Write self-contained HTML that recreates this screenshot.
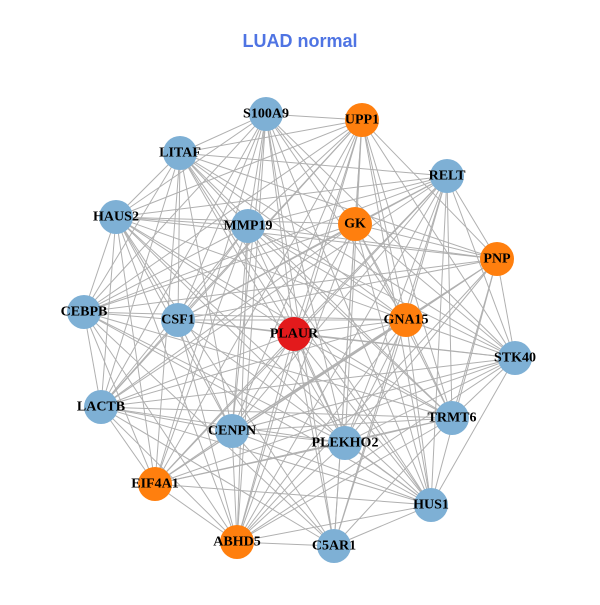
<!DOCTYPE html>
<html><head><meta charset="utf-8"><style>
html,body{margin:0;padding:0;background:#fff;}
svg text{font-family:"Liberation Serif",serif;font-weight:bold;font-size:14px;text-anchor:middle;dominant-baseline:central;fill:#000;}
</style></head><body>
<svg id="g" width="600" height="600" xmlns="http://www.w3.org/2000/svg">
<rect width="600" height="600" fill="#fff"/>
<text x="300" y="41" style="font-family:'Liberation Sans',sans-serif;font-size:18px;fill:#4f74e3;">LUAD normal</text>
<g id="edges" stroke="#b0b0b0" stroke-width="1"></g>
<g id="nodes"></g>
<g id="labels">
<text x="266" y="114">S100A9</text>
<text x="362" y="120">UPP1</text>
<text x="180" y="153">LITAF</text>
<text x="447" y="176">RELT</text>
<text x="116" y="217">HAUS2</text>
<text x="248" y="226">MMP19</text>
<text x="355" y="224">GK</text>
<text x="497" y="259">PNP</text>
<text x="84" y="312">CEBPB</text>
<text x="178" y="320">CSF1</text>
<text x="294" y="334">PLAUR</text>
<text x="406" y="320">GNA15</text>
<text x="515" y="358">STK40</text>
<text x="101" y="407">LACTB</text>
<text x="452" y="418">TRMT6</text>
<text x="232" y="431">CENPN</text>
<text x="345" y="443">PLEKHO2</text>
<text x="155" y="484">EIF4A1</text>
<text x="431" y="505">HUS1</text>
<text x="237" y="542">ABHD5</text>
<text x="334" y="546">C5AR1</text>
</g>
</svg>
<script>
var N=[[266,114,'b'],[362,120,'o'],[180,153,'b'],[447,176,'b'],[116,217,'b'],[248,226,'b'],[355,224,'o'],[497,259,'o'],[84,312,'b'],[178,320,'b'],[294,334,'r'],[406,320,'o'],[515,358,'b'],[101,407,'b'],[452,418,'b'],[232,431,'b'],[345,443,'b'],[155,484,'o'],[431,505,'b'],[237,542,'o'],[334,546,'b']];
var C={b:'#7eb0d5',o:'#ff7f0e',r:'#e31a1c'};
var ns='http://www.w3.org/2000/svg',E=document.getElementById('edges'),Nd=document.getElementById('nodes');
var s=7;function rnd(){s=(s*9301+49297)%233280;return s/233280;}
for(var i=0;i<N.length;i++)for(var j=i+1;j<N.length;j++){
 if(rnd()<0.12)continue;
 var l=document.createElementNS(ns,'line');
 l.setAttribute('x1',N[i][0]);l.setAttribute('y1',N[i][1]);l.setAttribute('x2',N[j][0]);l.setAttribute('y2',N[j][1]);
 E.appendChild(l);}
N.forEach(function(n){var c=document.createElementNS(ns,'circle');c.setAttribute('cx',n[0]);c.setAttribute('cy',n[1]);c.setAttribute('r',17);c.setAttribute('fill',C[n[2]]);Nd.appendChild(c);});
</script>
</body></html>
